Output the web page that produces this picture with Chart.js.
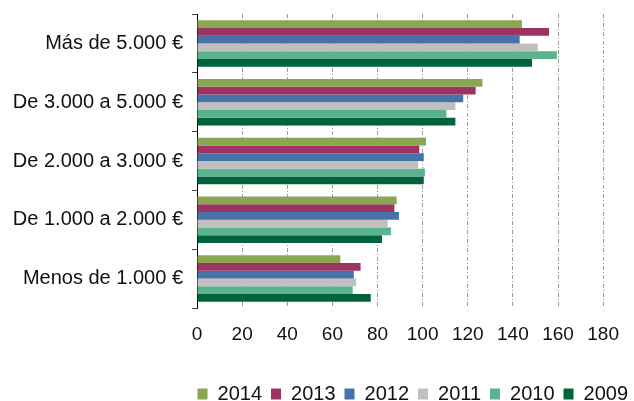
<!DOCTYPE html>
<html>
<head>
<meta charset="utf-8">
<script src="https://cdn.jsdelivr.net/npm/chart.js@4"></script>
<style>
  html, body { margin: 0; padding: 0; background: #fff; }
  #wrap { width: 634px; height: 401px; }
</style>
</head>
<body>
<div id="wrap"><canvas id="chart" width="634" height="401"></canvas></div>
<script>
// Income brackets (top to bottom)
const categories = ["Más de 5.000 €", "De 3.000 a 5.000 €", "De 2.000 a 3.000 €", "De 1.000 a 2.000 €", "Menos de 1.000 €"];

// Values per year, same order as categories
const years = ["2014", "2013", "2012", "2011", "2010", "2009"];
const v2014 = [144, 126.5, 101.5, 88.5, 63.5];
const v2013 = [156, 123.5, 98.5, 87.5, 72.5];
const v2012 = [143, 118, 100.5, 89.5, 69.5];
const v2011 = [151, 114.5, 98, 84.5, 70.5];
const v2010 = [159.5, 110.5, 101, 86, 69];
const v2009 = [148.5, 114.5, 100.5, 82, 77];

const xTicks = [0, 20, 40, 60, 80, 100, 120, 140, 160, 180];

const colors = ['#8ba650', '#9c3362', '#4672a7', '#c0c0c0', '#5bb28e', '#00633b'];
const seriesValues = [v2014, v2013, v2012, v2011, v2010, v2009];

const FONT = '"Liberation Sans", Arial, sans-serif';

const datasets = years.map((y, i) => ({
  label: y,
  data: seriesValues[i],
  backgroundColor: colors[i],
  borderWidth: 0,
  categoryPercentage: 0.79,
  barPercentage: 1.0
}));

new Chart(document.getElementById('chart'), {
  type: 'bar',
  data: { labels: categories, datasets: datasets },
  options: {
    indexAxis: 'y',
    responsive: false,
    animation: false,
    layout: { padding: { top: 14, right: 17, left: 0, bottom: -13 } },
    plugins: {
      tooltip: { enabled: false },
      legend: {
        position: 'bottom',
        align: 'end',
        labels: {
          boxWidth: 10,
          boxHeight: 11,
          padding: 9,
          color: '#111',
          font: { family: FONT, size: 20 }
        }
      }
    },
    scales: {
      x: {
        min: 0,
        max: 180,
        afterBuildTicks: scale => { scale.ticks = xTicks.map(v => ({ value: v })); },
        afterFit: scale => { scale.height = 67; },
        border: { display: false, dash: [4, 2, 1, 2] },
        grid: {
          color: '#9a9a9a',
          lineWidth: 1,
          drawTicks: false
        },
        ticks: {
          padding: 15,
          color: '#111',
          font: { family: FONT, size: 19 }
        }
      },
      y: {
        afterFit: scale => {
          scale.width = 197;
          scale.paddingTop = 0;
          scale.paddingBottom = 0;
        },
        border: { display: true, color: '#000', width: 1 },
        grid: {
          offset: true,
          drawOnChartArea: false,
          drawTicks: true,
          tickLength: 5,
          tickColor: '#444'
        },
        ticks: {
          padding: 9,
          color: '#111',
          font: { family: FONT, size: 20 }
        }
      }
    }
  },
  plugins: [{
    // legend sits flush to the right edge, past the plot's right padding
    id: 'legendShift',
    afterLayout(chart) {
      chart.legend.left += 20;
      chart.legend.right += 20;
    }
  }]
});
</script>
</body>
</html>
